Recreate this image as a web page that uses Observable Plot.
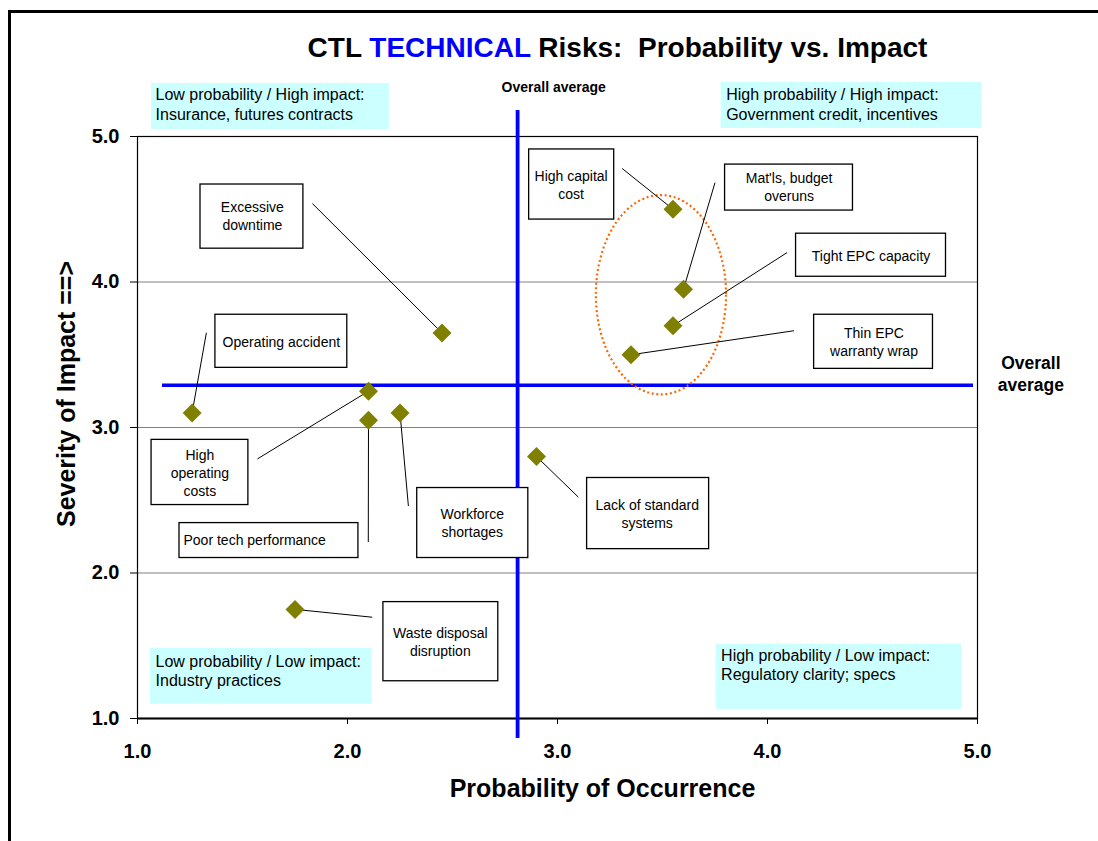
<!DOCTYPE html>
<html>
<head>
<meta charset="utf-8">
<script src="https://cdn.jsdelivr.net/npm/d3@7"></script>
<script src="https://cdn.jsdelivr.net/npm/@observablehq/plot@0.6"></script>
<style>
  html, body { margin: 0; padding: 0; background: #fff; overflow: hidden; }
  #wrap { position: relative; width: 1098px; height: 841px; }
  #border { position: absolute; left: 8px; top: 10px; width: 1200px; height: 1000px;
            border-left: 3px solid #000; border-top: 3px solid #000; pointer-events: none; }
  #title { position: absolute; top: 34px; left: 617.5px; transform: translateX(-50%);
           white-space: nowrap; font: bold 28px Arial, "Liberation Sans", sans-serif; line-height: 28px; color: #000; }
  #title .blue { color: #0000ff; }
  #chart { position: absolute; left: 0; top: 0; }
</style>
</head>
<body>
<div id="wrap">
  <div id="chart"></div>
  <div id="title">CTL <span class="blue">TECHNICAL</span> Risks:&nbsp; Probability vs. Impact</div>
  <div id="border"></div>
</div>
<script>
// ---- data ----
const risks = ["High capital cost", "Mat'ls, budget overruns", "Tight EPC capacity", "Thin EPC warranty wrap",
  "Excessive downtime", "Operating accident", "High operating costs", "Poor tech performance",
  "Workforce shortages", "Lack of standard systems", "Waste disposal disruption"];
const probability = [3.55, 3.6, 3.55, 3.35, 2.45, 1.26, 2.1, 2.1, 2.25, 2.9, 1.75];
const impact = [4.5, 3.95, 3.7, 3.5, 3.65, 3.1, 3.25, 3.05, 3.1, 2.8, 1.75];
const calloutText = ["High capital\ncost", "Mat'ls, budget\noveruns", "Tight EPC capacity", "Thin EPC\nwarranty wrap",
  "Excessive\ndowntime", "Operating accident", "High\noperating\ncosts", "Poor tech performance",
  "Workforce\nshortages", "Lack of standard\nsystems", "Waste disposal\ndisruption"];

const avgProbability = 2.81;
const avgImpact = 3.29;

const xTicks = [1, 2, 3, 4, 5];
const yTicks = [1, 2, 3, 4, 5];
const gridTicks = [2, 3, 4];

const quadrantText = ["Low probability / High impact:\nInsurance, futures contracts",
  "High probability / High impact:\nGovernment credit, incentives",
  "Low probability / Low impact:\nIndustry practices",
  "High probability / Low impact:\nRegulatory clarity; specs"];

// ---- annotation layout (in data units) ----
const calloutX1 = [2.865, 3.798, 4.136, 4.222, 1.300, 1.371, 1.067, 1.200, 2.332, 3.141, 2.171];
const calloutX2 = [3.270, 4.407, 4.850, 4.788, 1.790, 1.999, 1.528, 2.052, 2.861, 3.722, 2.718];
const calloutY1 = [4.911, 4.807, 4.332, 3.775, 4.670, 3.775, 2.915, 2.343, 2.584, 2.653, 1.800];
const calloutY2 = [4.429, 4.491, 4.036, 3.403, 4.229, 3.410, 2.467, 2.103, 2.103, 2.164, 1.256];
const calloutTextX = [3.065, 4.103, 4.493, 4.507, 1.547, 1.685, 1.297, 1.219, 2.594, 3.427, 2.442];
const calloutTextY = [4.670, 4.656, 4.184, 3.593, 4.456, 3.596, 2.694, 2.230, 2.350, 2.412, 1.528];
const calloutLeftAligned = [false, false, false, false, false, false, false, true, false, false, false];
const leaderX = [3.308, 3.750, 4.093, 4.126, 1.833, 1.328, 1.571, 2.099, 2.290, 3.099, 2.118];
const leaderY = [4.780, 4.683, 4.202, 3.665, 4.539, 3.651, 2.784, 2.213, 2.460, 2.522, 1.696];

const quadX1 = [1.067, 3.779, 1.062, 3.755];
const quadX2 = [2.199, 5.021, 2.118, 4.926];
const quadY1 = [5.365, 5.372, 1.483, 1.511];
const quadY2 = [5.048, 5.055, 1.098, 1.063];
const quadTextX = [1.086, 3.803, 1.086, 3.779];
const quadTextY = [5.224, 5.224, 1.332, 1.373];

const avgHLine = [1.119, 4.981];   // x extent of horizontal average line
const avgVLine = [5.179, 0.862];   // y extent of vertical average line
const avgLabelTop = [2.982, 5.337];
const avgLabelRight = [5.254, 3.376];

const clusterCenter = [3.495, 3.909];
const clusterRadius = [0.31, 0.685];

// ---- chart ----
const FONT = "Arial, 'Liberation Sans', sans-serif";
const idx = d3.range(risks.length);
const idxCentered = idx.filter(i => !calloutLeftAligned[i]);
const idxLeft = idx.filter(i => calloutLeftAligned[i]);
const qIdx = d3.range(quadrantText.length);

const diamondSymbol = {
  draw(context, size) {
    const r = Math.sqrt(size / Math.PI);
    context.moveTo(0, -r);
    context.lineTo(r, 0);
    context.lineTo(0, r);
    context.lineTo(-r, 0);
    context.closePath();
  }
};

function clusterEllipse(index, scales) {
  const x = scales.x, y = scales.y;
  const cx = x(clusterCenter[0]), cy = y(clusterCenter[1]);
  const rx = x(clusterCenter[0] + clusterRadius[0]) - cx;
  const ry = cy - y(clusterCenter[1] + clusterRadius[1]);
  const g = d3.create("svg:g");
  g.append("ellipse")
    .attr("cx", cx).attr("cy", cy).attr("rx", rx).attr("ry", ry)
    .attr("fill", "none").attr("stroke", "#ff6600").attr("stroke-width", 2.2)
    .attr("stroke-dasharray", "2 2.6");
  return g.node();
}

const calloutTextStyle = { lineAnchor: "middle", lineHeight: 1.29, fontSize: 14, fontWeight: "normal", fill: "black" };

const chart = Plot.plot({
  width: 1098,
  height: 841,
  marginLeft: 137,
  marginRight: 121,
  marginTop: 136,
  marginBottom: 123,
  style: { fontFamily: FONT, fontSize: "20px", fontWeight: "bold", background: "white", overflow: "visible", color: "black" },
  x: { domain: [1, 5], ticks: xTicks, tickFormat: d => d.toFixed(1), tickSize: 6, tickPadding: 19, label: null },
  y: { domain: [1, 5], ticks: yTicks, tickFormat: d => d.toFixed(1), tickSize: 7, tickPadding: 11, label: null },
  marks: [
    Plot.ruleY(gridTicks, { stroke: "#808080", strokeWidth: 1 }),
    Plot.frame({ stroke: "black", strokeWidth: 1.2 }),
    Plot.ruleY([1], { stroke: "black", strokeWidth: 2.2 }),
    // quadrant notes
    Plot.rect(qIdx, { x1: i => quadX1[i], x2: i => quadX2[i], y1: i => quadY1[i], y2: i => quadY2[i], fill: "#ccffff" }),
    Plot.text(qIdx, { x: i => quadTextX[i], y: i => quadTextY[i], text: i => quadrantText[i], textAnchor: "start",
      lineAnchor: "middle", lineHeight: 1.19, fontSize: 16, fontWeight: "normal", fill: "black" }),
    // average lines
    Plot.ruleY([avgImpact], { x1: avgHLine[0], x2: avgHLine[1], stroke: "#0000ff", strokeWidth: 3.5 }),
    Plot.ruleX([avgProbability], { y1: avgVLine[0], y2: avgVLine[1], stroke: "#0000ff", strokeWidth: 3.8 }),
    Plot.text(["Overall average"], { x: avgLabelTop[0], y: avgLabelTop[1], fontSize: 14, fontWeight: "bold", fill: "black" }),
    Plot.text(["Overall\naverage"], { x: avgLabelRight[0], y: avgLabelRight[1], fontSize: 17.5, lineHeight: 1.26, fontWeight: "bold", fill: "black" }),
    // cluster
    clusterEllipse,
    // leaders and callouts
    Plot.link(idx, { x1: i => leaderX[i], y1: i => leaderY[i], x2: i => probability[i], y2: i => impact[i], stroke: "black", strokeWidth: 1 }),
    Plot.rect(idx, { x1: i => calloutX1[i], x2: i => calloutX2[i], y1: i => calloutY1[i], y2: i => calloutY2[i],
      fill: "white", stroke: "black", strokeWidth: 1.3 }),
    Plot.text(idxCentered, { x: i => calloutTextX[i], y: i => calloutTextY[i], text: i => calloutText[i], textAnchor: "middle", ...calloutTextStyle }),
    Plot.text(idxLeft, { x: i => calloutTextX[i], y: i => calloutTextY[i], text: i => calloutText[i], textAnchor: "start", ...calloutTextStyle }),
    // risk points
    Plot.dot(idx, { x: i => probability[i], y: i => impact[i], symbol: diamondSymbol, r: 9.5, fill: "#808000", title: i => risks[i] }),
    // axis titles
    Plot.text(["Probability of Occurrence"], { frameAnchor: "bottom", textAnchor: "middle", lineAnchor: "middle", dx: 45, dy: 70.5,
      fontSize: 25, fontWeight: "bold", fill: "black" }),
    Plot.text(["Severity of Impact ==>"], { frameAnchor: "left", textAnchor: "middle", lineAnchor: "middle", dx: -71, dy: -33.5, rotate: -90,
      fontSize: 25, fontWeight: "bold", fill: "black" })
  ]
});
document.getElementById("chart").appendChild(chart);
</script>
</body>
</html>
